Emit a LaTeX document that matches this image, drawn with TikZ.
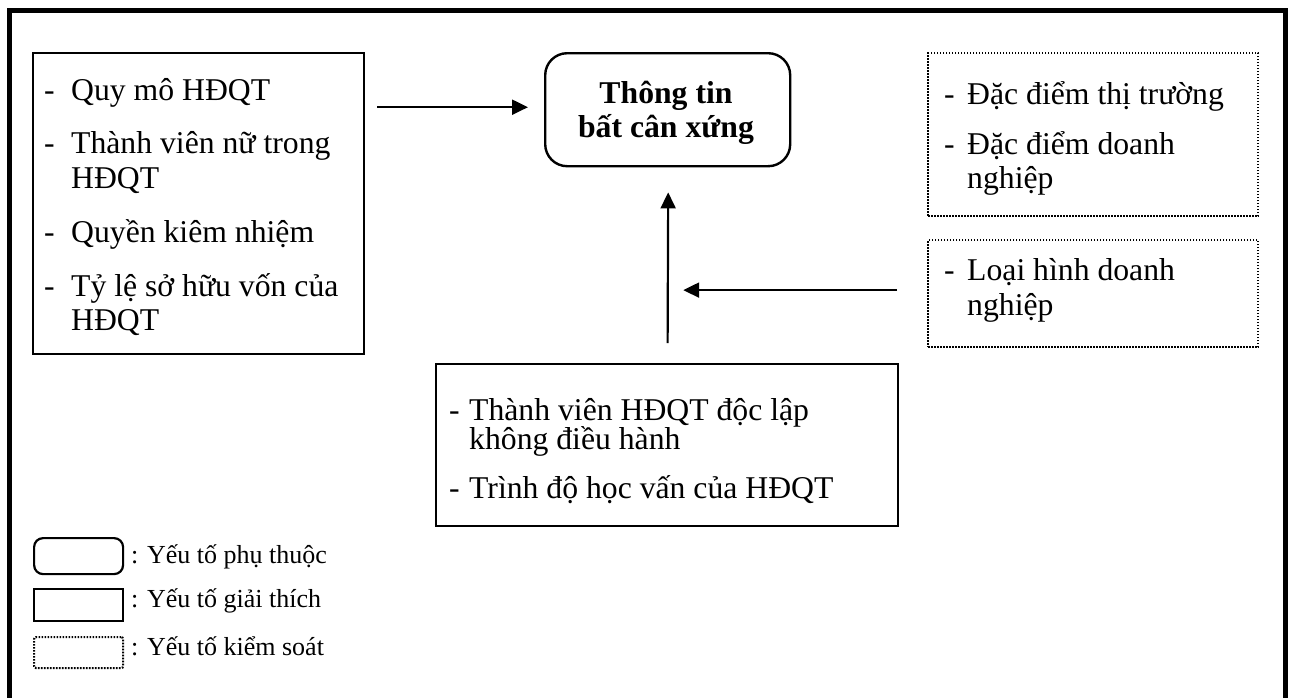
\documentclass[tikz,border=0pt]{standalone}
\usepackage{fontspec}
\setmainfont{Liberation Serif}
\usetikzlibrary{arrows.meta,calc}
\begin{document}
\begin{tikzpicture}[x=1pt,y=-1pt,
  frame/.style={line width=4.5pt},
  solidbox/.style={draw, line width=2.2pt, inner sep=0pt, anchor=north west},
  roundbox/.style={draw, line width=2.4pt, inner sep=0pt, anchor=north west, rounded corners=#1},
  dotbox/.style={draw, line width=2.2pt, dash pattern=on 1.6pt off 1.4pt, inner sep=0pt, anchor=north west},
  txt/.style={anchor=base west, inner sep=0pt, font=\fontsize{31.7}{36}\selectfont},
  ttl/.style={anchor=base, inner sep=0pt, font=\fontsize{31.7}{36}\selectfont\bfseries},
  lg/.style={anchor=base west, inner sep=0pt, font=\fontsize{26}{30}\selectfont},
  arr/.style={line width=2.2pt, -{Triangle[length=16pt,width=15pt]}}]
\useasboundingbox (0,0) rectangle (1290,697);
% outer frame (bottom edge lies below the visible area)
\draw[frame] (9.5,720) -- (9.5,10.5) -- (1285.7,10.5) -- (1285.7,720);

% boxes
\node[solidbox, minimum width=331pt, minimum height=301pt] (lbox) at (32,52) {};
\node[roundbox=22pt, minimum width=245pt, minimum height=113pt] (cbox) at (544,52) {};
\node[dotbox, minimum width=330pt, minimum height=163pt] (rbox1) at (927,52) {};
\node[dotbox, minimum width=330pt, minimum height=107pt] (rbox2) at (927,239) {};
\node[solidbox, minimum width=462pt, minimum height=162pt] (bbox) at (435,363) {};

% left box text
\node[txt] (l1d) at (44,100) {-};
\node[txt] (l1) at (71,100) {Quy mô HĐQT};
\node[txt] (l2d) at (44,153) {-};
\node[txt] (l2) at (71,153) {Thành viên nữ trong};
\node[txt] (l2b) at (71,188) {HĐQT};
\node[txt] (l3d) at (44,242) {-};
\node[txt] (l3) at (71,242) {Quyền kiêm nhiệm};
\node[txt] (l4d) at (44,296) {-};
\node[txt] (l4) at (71,296) {Tỷ lệ sở hữu vốn của};
\node[txt] (l4b) at (71,330) {HĐQT};

% central title
\node[ttl] (t1) at (666,103) {Thông tin};
\node[ttl] (t2) at (666,137) {bất cân xứng};

% right box 1 text
\node[txt] (r1d) at (944,104) {-};
\node[txt] (r1) at (967,104) {Đặc điểm thị trường};
\node[txt] (r2d) at (944,154) {-};
\node[txt] (r2) at (967,154) {Đặc điểm doanh};
\node[txt] (r2b) at (967,188) {nghiệp};

% right box 2 text
\node[txt] (r3d) at (944,280) {-};
\node[txt] (r3) at (967,280) {Loại hình doanh};
\node[txt] (r3b) at (967,315) {nghiệp};

% bottom box text
\node[txt] (b1d) at (449,420) {-};
\node[txt] (b1) at (469,420) {Thành viên HĐQT độc lập};
\node[txt] (b1b) at (469,449) {không điều hành};
\node[txt] (b2d) at (449,498) {-};
\node[txt] (b2) at (469,498) {Trình độ học vấn của HĐQT};

% arrows
\draw[arr] ($(lbox.east |- cbox.west)+(12,-2.5)$) -- ($(cbox.west)+(-16,-2.5)$);
\draw[arr] ($(bbox.north)+(0.5,-20)$) -- ($(cbox.south)+(0.5,25)$);
\coordinate (h2s) at ($(rbox2.west)+(-30,-3.5)$);
\draw[arr] (h2s) -- ($(h2s -| cbox.south)+(15.5,0)$);

% legend
\node[roundbox=9pt, line width=2.2pt, minimum width=89pt, minimum height=36pt] (lg1) at (33,537) {};
\node[solidbox, minimum width=89pt, minimum height=32pt] (lg2) at (33,588) {};
\node[dotbox, rounded corners=2pt, minimum width=89pt, minimum height=31pt] (lg3) at (33,636) {};
\node[lg] (lg1t) at (131,563) {: Yếu tố phụ thuộc};
\node[lg] (lg2t) at (131,607) {: Yếu tố giải thích};
\node[lg] (lg3t) at (131,655) {: Yếu tố kiểm soát};
\end{tikzpicture}
\end{document}
